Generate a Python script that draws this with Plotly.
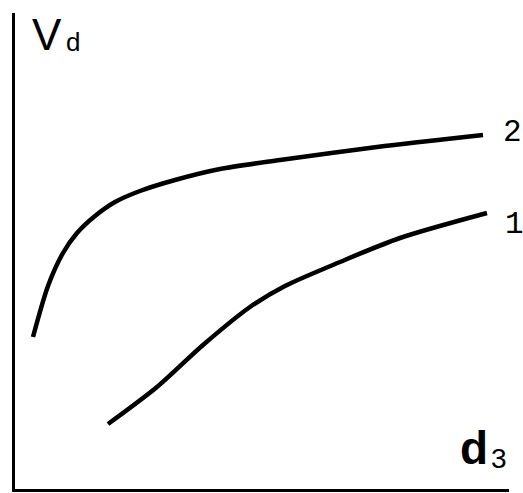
import plotly.graph_objects as go

# Schematic curves (arbitrary units: x right, y up)
curve2_x = [18, 33, 48, 62, 80, 100, 125, 160, 205, 265, 362, 468]
curve2_y = [152, 203, 236, 256, 273, 287, 298, 309, 320, 329, 342, 354]
curve1_x = [93, 142, 188, 235, 270, 325, 385, 472]
curve1_y = [65, 102, 144, 182, 203, 227, 251, 276]

fig = go.Figure()
for xs, ys in [(curve2_x, curve2_y), (curve1_x, curve1_y)]:
    fig.add_trace(go.Scatter(x=xs, y=ys, mode="lines",
                             line=dict(color="black", width=4.5, shape="spline", smoothing=0.8),
                             hoverinfo="skip"))

fig.update_layout(
    width=523, height=493,
    margin=dict(l=15, r=14, t=13, b=4, pad=0),
    paper_bgcolor="white", plot_bgcolor="white",
    showlegend=False,
    xaxis=dict(range=[0, 494], showgrid=False, zeroline=False, showticklabels=False,
               ticks="", showline=True, linecolor="black", linewidth=3, mirror=False),
    yaxis=dict(range=[0, 476], showgrid=False, zeroline=False, showticklabels=False,
               ticks="", showline=True, linecolor="black", linewidth=3, mirror=False),
)

font = "Liberation Sans, Arial, sans-serif"
mono = "Liberation Mono, Courier New, monospace"
ann = [
    dict(text="V", x=31, y=35, size=44, fam=font, xanchor="left", yanchor="middle"),
    dict(text="d", x=65, y=42, size=26, fam=font, xanchor="left", yanchor="middle"),
    dict(text="<b>d</b>", x=459, y=475, size=46, fam=font, xanchor="left", yanchor="bottom"),
    dict(text="3", x=490, y=475, size=28, fam=font, xanchor="left", yanchor="bottom"),
    dict(text="2", x=502, y=132, size=31, fam=mono, xanchor="left", yanchor="middle"),
    dict(text="1", x=504, y=224, size=31, fam=mono, xanchor="left", yanchor="middle"),
]
for a in ann:
    fig.add_annotation(text=a["text"], x=(a["x"] - 15) / 494, y=(489 - a["y"]) / 476,
                       xref="paper", yref="paper", showarrow=False, borderpad=0,
                       xanchor=a["xanchor"], yanchor=a["yanchor"],
                       font=dict(family=a["fam"], size=a["size"], color="black"))

fig.write_html("out.html", config={"displayModeBar": False},
               post_script="document.body.style.margin='0';document.body.style.overflow='hidden';")
